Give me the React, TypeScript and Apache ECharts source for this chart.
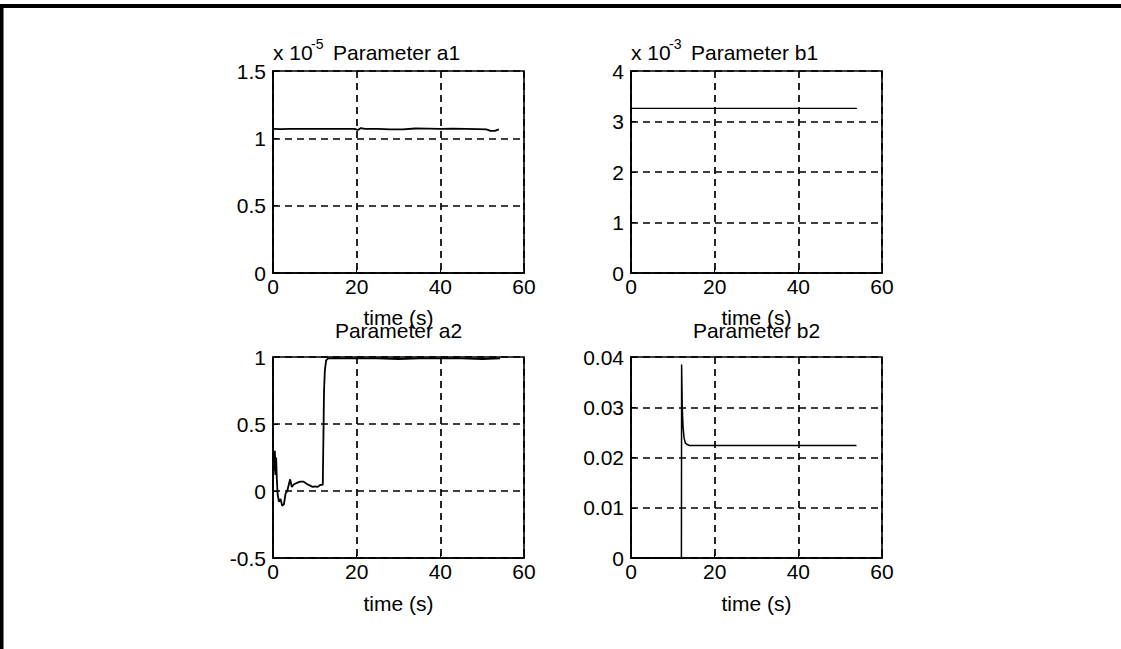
import React, { useEffect, useRef } from "react";
import * as echarts from "echarts";

// Parameter a1 (scaled by 1e-5)
const a1Time = [0, 2, 4, 8, 12, 16, 19.5, 20.3, 21, 22, 25, 28, 31, 34, 37, 40, 43, 46, 49, 51, 52, 53, 54];
const a1Vals = [1.07, 1.068, 1.07, 1.07, 1.07, 1.07, 1.07, 1.062, 1.076, 1.07, 1.07, 1.066, 1.067, 1.073, 1.072, 1.07, 1.071, 1.07, 1.068, 1.066, 1.055, 1.055, 1.067];

// Parameter b1 (scaled by 1e-3)
const b1Time = [0, 10, 20, 30, 40, 54];
const b1Vals = [3.26, 3.26, 3.26, 3.26, 3.26, 3.26];

// Parameter a2
const a2Time = [0, 0.15, 0.3, 0.45, 0.6, 0.75, 0.9, 1.1, 1.4, 1.8, 2.2, 2.6, 3.0, 3.4, 3.8, 4.1, 4.5, 5.0, 5.7, 6.5, 7.3, 8.2, 8.9, 9.5, 10.0, 10.6, 11.3, 11.9, 12.05, 12.2, 12.4, 12.7, 13.2, 15, 20, 25, 30, 35, 40, 45, 50, 54.3];
const a2Vals = [0.02, 0.3, 0.15, 0.3, 0.12, 0.25, 0.1, -0.02, -0.08, -0.06, -0.11, -0.1, -0.02, 0.0, 0.05, 0.087, 0.03, 0.05, 0.06, 0.07, 0.07, 0.05, 0.04, 0.03, 0.035, 0.03, 0.045, 0.045, 0.4, 0.75, 0.9, 0.975, 0.99, 0.99, 0.99, 0.99, 0.985, 0.99, 0.99, 0.99, 0.985, 0.99];

// Parameter b2
const b2Time = [0, 6, 12.05, 12.1, 12.25, 12.45, 12.7, 13.0, 13.4, 14, 20, 30, 40, 50, 53.9];
const b2Vals = [0, 0, 0, 0.0385, 0.03, 0.026, 0.0238, 0.0229, 0.0226, 0.0224, 0.0224, 0.0224, 0.0224, 0.0224, 0.0224];

const xTicks = [0, 20, 40, 60];
const xLabel = "time (s)";
const titles = ["Parameter a1", "Parameter b1", "Parameter a2", "Parameter b2"];
const multipliers = ["-5", "-3"];

const FONT = "'Liberation Sans', Arial, Helvetica, sans-serif";
const FS = 21;

function pairs(t: number[], v: number[]) {
  return t.map((x, i) => [x, v[i]]);
}

export default function App() {
  const ref = useRef<HTMLDivElement>(null);
  useEffect(() => {
    if (!ref.current) return;
    const chart = echarts.init(ref.current, null, { renderer: "svg" });
    const grids = [
      { left: 273, top: 71, width: 251, height: 202 },
      { left: 631, top: 71, width: 251, height: 202 },
      { left: 273, top: 357, width: 251, height: 201 },
      { left: 631, top: 357, width: 251, height: 201 },
    ];
    const yRanges = [
      { min: 0, max: 1.5, interval: 0.5 },
      { min: 0, max: 4, interval: 1 },
      { min: -0.5, max: 1, interval: 0.5 },
      { min: 0, max: 0.04, interval: 0.01 },
    ];
    const splitLine = { show: true, lineStyle: { color: "#000", width: 1.7, type: [7, 5] as any } };
    const axisLabelStyle = { color: "#000", fontSize: FS, fontFamily: FONT };
    const data = [pairs(a1Time, a1Vals), pairs(b1Time, b1Vals), pairs(a2Time, a2Vals), pairs(b2Time, b2Vals)];
    const widths = [1.8, 1.3, 1.8, 1.5];
    const nameGaps = [34, 34, 35, 35];

    const graphic: any[] = [
      { type: "rect", shape: { x: 0, y: 4, width: 1121, height: 4 }, style: { fill: "#000" } },
      { type: "rect", shape: { x: 0, y: 4, width: 3.5, height: 645 }, style: { fill: "#000" } },
    ];
    const topX = [273, 631];
    topX.forEach((x0, i) => {
      graphic.push({
        type: "text", x: x0, y: 52,
        style: { text: "x 10", fontSize: FS, fontFamily: FONT, fill: "#000", align: "left", verticalAlign: "middle", textAlign: "left", textVerticalAlign: "middle" },
      });
      graphic.push({
        type: "text", x: x0 + 38, y: 44,
        style: { text: multipliers[i], fontSize: 14, fontFamily: FONT, fill: "#000", align: "left", verticalAlign: "middle", textAlign: "left", textVerticalAlign: "middle" },
      });
      graphic.push({
        type: "text", x: x0 + 60, y: 52,
        style: { text: titles[i], fontSize: FS, fontFamily: FONT, fill: "#000", align: "left", verticalAlign: "middle", textAlign: "left", textVerticalAlign: "middle" },
      });
    });
    [2, 3].forEach((i) => {
      const g = grids[i];
      graphic.push({
        type: "text", x: g.left + g.width / 2, y: 330,
        style: { text: titles[i], fontSize: FS, fontFamily: FONT, fill: "#000", align: "center", verticalAlign: "middle", textAlign: "center", textVerticalAlign: "middle" },
      });
    });

    chart.setOption({
      animation: false,
      backgroundColor: "#fff",
      grid: grids.map((g) => ({ ...g, show: true, borderColor: "#000", borderWidth: 1.6, backgroundColor: "transparent" })),
      xAxis: grids.map((_, i) => ({
        type: "value",
        gridIndex: i,
        min: xTicks[0],
        max: xTicks[xTicks.length - 1],
        interval: xTicks[1] - xTicks[0],
        name: xLabel,
        nameLocation: "middle",
        nameGap: nameGaps[i],
        nameTextStyle: axisLabelStyle,
        axisLine: { show: true, onZero: false, lineStyle: { color: "#000", width: 1.6 } },
        axisTick: { show: true, inside: true, length: 5, lineStyle: { color: "#000" } },
        axisLabel: { ...axisLabelStyle, margin: 3 },
        splitLine,
      })),
      yAxis: grids.map((_, i) => ({
        type: "value",
        gridIndex: i,
        ...yRanges[i],
        axisLine: { show: true, onZero: false, lineStyle: { color: "#000", width: 1.6 } },
        axisTick: { show: true, inside: true, length: 5, lineStyle: { color: "#000" } },
        axisLabel: { ...axisLabelStyle, margin: 7 },
        splitLine,
      })),
      series: data.map((d, i) => ({
        type: "line",
        xAxisIndex: i,
        yAxisIndex: i,
        data: d,
        showSymbol: false,
        symbol: "none",
        lineStyle: { color: "#000", width: widths[i] },
      })),
      graphic,
    });
    return () => chart.dispose();
  }, []);
  return (
    <div
      ref={ref}
      style={{ position: "absolute", left: 0, top: 0, width: 1121, height: 649, background: "#fff" }}
    />
  );
}
